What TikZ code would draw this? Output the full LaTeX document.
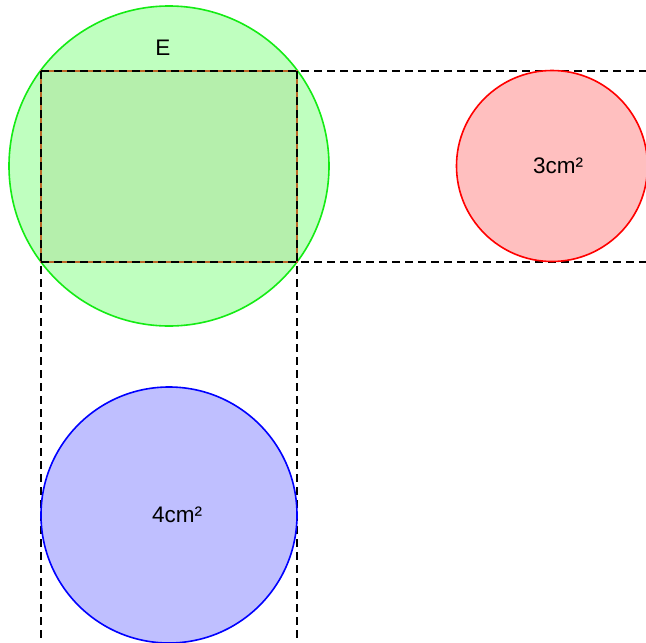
\documentclass[tikz,border=0pt]{standalone}
\usepackage{fontspec}
\setmainfont{Liberation Sans}
\definecolor{gfill}{RGB}{191,255,191}
\definecolor{gline}{RGB}{20,235,20}
\definecolor{rfill}{RGB}{255,191,191}
\definecolor{bfill}{RGB}{191,191,255}
\definecolor{rectfill}{RGB}{181,239,172}
\definecolor{rectline}{RGB}{190,105,40}
\begin{document}
\begin{tikzpicture}[x=1pt,y=-1pt,
  circ/.style={circle,inner sep=0pt,line width=1.6pt},
  guide/.style={black,line width=1.5pt,dash pattern=on 8pt off 5pt},
  lbl/.style={font=\fontsize{22.5}{26}\selectfont,inner sep=0pt}]
\useasboundingbox (0,0) rectangle (646,643);
% green circle
\node[circ,draw=gline,fill=gfill,minimum size=320pt] (G) at (169,166) {};
% rectangle
\coordinate (TL) at (41,71);
\coordinate (BR) at (297,262);
\draw[fill=rectfill,draw=rectline,line width=2pt] (TL) rectangle (BR);
% guides
\coordinate (TR) at (646,71);
\coordinate (BRr) at (646,262);
\coordinate (BL) at (41,262);
\coordinate (LB) at (41,643);
\coordinate (RT) at (297,71);
\coordinate (RB) at (297,643);
\draw[guide] (TL) -- (TR);
\draw[guide] (BL) -- (BRr);
\draw[guide] (TL) -- (LB);
\draw[guide] (RT) -- (RB);
% red and blue circles
\node[circ,draw=red,fill=rfill,minimum size=191pt] (R) at (552,166) {};
\node[circ,draw=blue,fill=bfill,minimum size=256pt] (B) at (169,515) {};
% labels
\node[lbl] (E) at (163,48) {E};
\node[lbl] (t3) at (558,166) {3cm²};
\node[lbl] (t4) at (177,515) {4cm²};
\end{tikzpicture}
\end{document}
